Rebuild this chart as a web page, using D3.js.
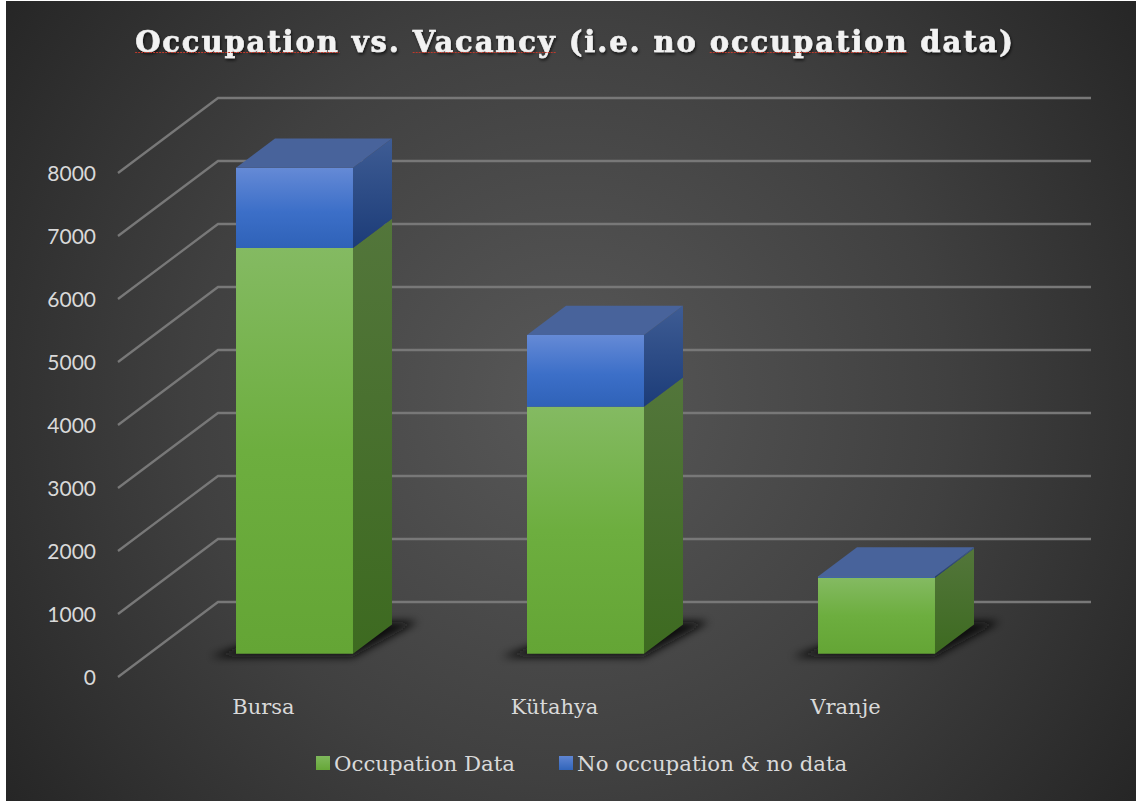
<!DOCTYPE html>
<html>
<head>
<meta charset="utf-8">
<script src="https://cdnjs.cloudflare.com/ajax/libs/d3/7.8.5/d3.min.js"></script>
<style>
  html, body { margin: 0; padding: 0; background: #fff; }
  svg { display: block; }
  .tick-label { font-family: Lato, sans-serif; font-size: 21px; fill: #d9d9d9; }
  .cat-label { font-family: "DejaVu Serif", serif; font-size: 21px; fill: #d9d9d9; }
  .legend-label { font-family: "DejaVu Serif", serif; font-size: 21.3px; fill: #d9d9d9; }
  .title { font-family: "DejaVu Serif", serif; font-weight: bold; font-size: 29px; fill: #f2f2f2; stroke: #f2f2f2; stroke-width: 0.6px; letter-spacing: 1.9px; }
</style>
</head>
<body>
<div class="visualisation"></div>
<script>
var categories = ["Bursa", "Kütahya", "Vranje"];
var occupationData = [6440, 3920, 1205];
var noOccupation = [1275, 1140, 20];
var seriesNames = ["Occupation Data", "No occupation & no data"];
var yTicks = [0, 1000, 2000, 3000, 4000, 5000, 6000, 7000, 8000];

var width = 1136, height = 801;

var svg = d3.select(".visualisation").append("svg")
    .attr("width", width)
    .attr("height", height);

var defs = svg.append("defs");

function linear(id, x2, y2, stops) {
  var g = defs.append("linearGradient").attr("id", id)
      .attr("x1", 0).attr("y1", 0).attr("x2", x2).attr("y2", y2);
  stops.forEach(function(s) {
    g.append("stop").attr("offset", s[0]).attr("stop-color", s[1]);
  });
}

var bg = defs.append("radialGradient").attr("id", "bg")
    .attr("gradientUnits", "userSpaceOnUse")
    .attr("cx", 570).attr("cy", 400).attr("r", 690);
bg.append("stop").attr("offset", 0).attr("stop-color", "#585858");
bg.append("stop").attr("offset", 0.55).attr("stop-color", "#404040");
bg.append("stop").attr("offset", 1).attr("stop-color", "#262626");

linear("greenFront", 0, 1, [[0, "#84ba62"], [0.5, "#6dae3f"], [1, "#64a535"]]);
linear("greenSide", 0, 1, [[0, "#53763b"], [1, "#3d6a20"]]);
linear("blueFront", 0, 1, [[0, "#658ad6"], [0.55, "#3c6fc8"], [1, "#2f62b8"]]);
linear("blueSide", 0, 1, [[0, "#3e5c94"], [1, "#1c3c78"]]);
linear("greenSwatch", 0, 1, [[0, "#7fb85c"], [1, "#66a738"]]);
linear("blueSwatch", 0, 1, [[0, "#5f85d2"], [1, "#3165bb"]]);

defs.append("filter").attr("id", "blur")
    .attr("x", "-30%").attr("y", "-60%").attr("width", "160%").attr("height", "220%")
  .append("feGaussianBlur").attr("stdDeviation", 4.2);

defs.append("filter").attr("id", "titleShadow")
    .attr("x", "-5%").attr("y", "-30%").attr("width", "110%").attr("height", "170%")
  .append("feDropShadow")
    .attr("dx", 1).attr("dy", 2).attr("stdDeviation", 1.5)
    .attr("flood-color", "#000").attr("flood-opacity", 0.7);

// panel, the reference has a thin white edge on the left and top
svg.append("rect").attr("width", width).attr("height", height).attr("fill", "#fff");
svg.append("rect").attr("x", 6).attr("y", 1)
    .attr("width", width - 6).attr("height", height - 1)
    .attr("fill", "url(#bg)");

// front plane scales, depth (0..1) pushes a point back along the floor
var x = d3.scaleBand().domain(categories).range([118, 991])
    .paddingInner(0.598).paddingOuter(0.299);
var y = d3.scaleLinear().domain([0, 8000]).range([677, 173]);
var depth = d3.scaleLinear().domain([0, 1]);
var depthX = depth.copy().range([0, 100]);
var depthY = depth.copy().range([0, -75]);

var barNear = 0.31, barFar = 0.70;

function pt(px, value, d) {
  return [px + depthX(d), y(value) + depthY(d)];
}
function poly(points) {
  return points.map(function(p) { return p[0] + "," + p[1]; }).join(" ");
}

// grid
var grid = svg.append("g").attr("fill", "none")
    .attr("stroke", "#787878").attr("stroke-width", 2.3);

grid.selectAll("polyline").data(yTicks).enter().append("polyline")
    .attr("points", function(d) {
      return poly([pt(x.range()[0], d, 0), pt(x.range()[0], d, 1), pt(x.range()[1], d, 1)]);
    });

// y labels
svg.append("g").selectAll("text").data(yTicks).enter().append("text")
    .attr("class", "tick-label")
    .attr("x", 96)
    .attr("y", function(d) { return y(d); })
    .attr("dy", "0.4em")
    .attr("text-anchor", "end")
    .text(function(d) { return d; });

// stacked boxes
var rows = categories.map(function(c, i) {
  return { cat: c, a: occupationData[i], b: noOccupation[i] };
});

var bars = svg.selectAll(".bar").data(rows).enter().append("g").attr("class", "bar");

bars.append("polygon")
    .attr("fill", "#0a0a0a")
    .attr("filter", "url(#blur)")
    .attr("points", function(d) {
      var l = x(d.cat), r = l + x.bandwidth();
      return poly([
        pt(l - 22, 0, barNear - 0.04),
        pt(r + 4, 0, barNear - 0.04),
        pt(r + 22, 0, barFar + 0.04),
        pt(r - 10, 0, barFar + 0.04),
        pt(l, 0, barNear + 0.14)
      ]);
    });

function box(g, lo, hi, front, side) {
  g.append("polygon").attr("fill", "url(#" + side + ")")
      .attr("points", function(d) {
        var r = x(d.cat) + x.bandwidth();
        return poly([pt(r, lo(d), barNear), pt(r, hi(d), barNear), pt(r, hi(d), barFar), pt(r, lo(d), barFar)]);
      });
  g.append("polygon").attr("fill", "url(#" + front + ")")
      .attr("points", function(d) {
        var l = x(d.cat), r = l + x.bandwidth();
        return poly([pt(l, lo(d), barNear), pt(r, lo(d), barNear), pt(r, hi(d), barNear), pt(l, hi(d), barNear)]);
      });
}

box(bars, function() { return 0; }, function(d) { return d.a; }, "greenFront", "greenSide");
box(bars, function(d) { return d.a; }, function(d) { return d.a + d.b; }, "blueFront", "blueSide");

bars.append("polygon")
    .attr("fill", "#48639b")
    .attr("points", function(d) {
      var l = x(d.cat), r = l + x.bandwidth(), t = d.a + d.b;
      return poly([pt(l, t, barNear), pt(r, t, barNear), pt(r, t, barFar), pt(l, t, barFar)]);
    });

// category labels
svg.append("g").selectAll("text").data(categories).enter().append("text")
    .attr("class", "cat-label")
    .attr("x", function(d) { return x(d) + x.bandwidth() / 2; })
    .attr("y", 714)
    .attr("text-anchor", "middle")
    .text(function(d) { return d; });

// legend
var legendX = [316, 559], legendFill = ["url(#greenSwatch)", "url(#blueSwatch)"];
var legend = svg.selectAll(".legend").data(seriesNames).enter().append("g").attr("class", "legend")
    .attr("transform", function(d, i) { return "translate(" + legendX[i] + ",756)"; });
legend.append("rect").attr("width", 14).attr("height", 14)
    .attr("fill", function(d, i) { return legendFill[i]; });
legend.append("text").attr("class", "legend-label")
    .attr("x", 18).attr("y", 15)
    .text(function(d) { return d; });

// title with the spell-check underlines
var titleText = "Occupation vs. Vacancy (i.e. no occupation data)";
var title = svg.append("text").attr("class", "title")
    .attr("x", 575).attr("y", 52)
    .attr("text-anchor", "middle")
    .attr("filter", "url(#titleShadow)")
    .text(titleText);

var flagged = ["Occupation", "Vacancy", "occupation"];
flagged.forEach(function(w) {
  var start = titleText.indexOf(w);
  var a = title.node().getStartPositionOfChar(start);
  var b = title.node().getEndPositionOfChar(start + w.length - 1);
  svg.append("line")
      .attr("x1", a.x).attr("x2", b.x)
      .attr("y1", 52.5).attr("y2", 52.5)
      .attr("stroke", "#c0392b").attr("stroke-width", 1.2)
      .attr("stroke-dasharray", "2 1");
});
</script>
</body>
</html>
